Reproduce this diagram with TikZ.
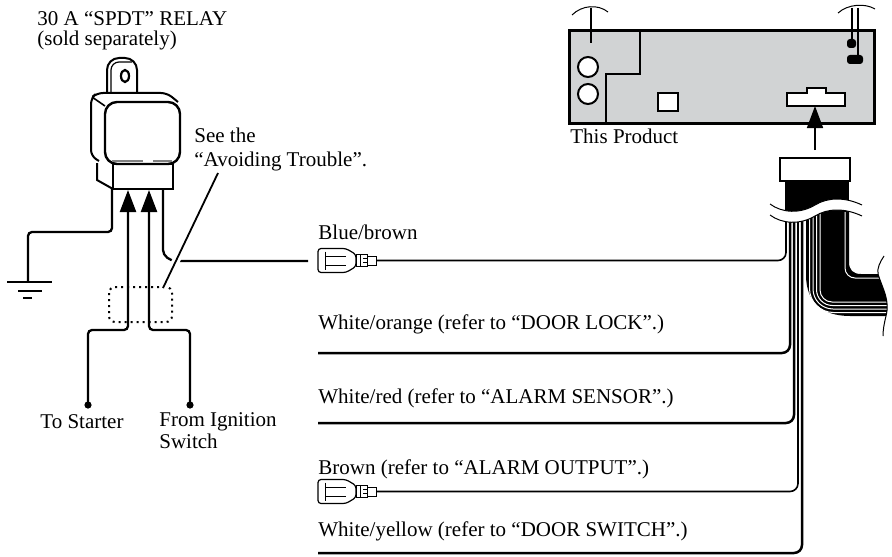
\documentclass[tikz,border=0pt]{standalone}
\usepackage{fontspec}
\setmainfont{Liberation Serif}
\usetikzlibrary{arrows.meta}
\definecolor{panel}{RGB}{209,211,212}
\tikzset{
 wire/.style={line width=1.15pt,rounded corners=2pt},
 hwire/.style={line width=1.25pt,rounded corners=4pt},
 thinwire/.style={line width=0.8pt,rounded corners=4pt},
 label/.style={anchor=base west,inner sep=0pt,font=\fontsize{10.5}{12.6}\selectfont},
 bigarrow/.style={-{Triangle[width=8pt,length=11pt]}},
 tip/.style={circle,fill,inner sep=0pt,minimum size=3.6pt},
 plug/.pic={
  \draw[line width=0.6pt,rounded corners=1.5pt] (28,-12)--(0,-12)--(0,12)--(28,12)--(38,6)--(38,-6)--cycle;
  \draw[line width=0.5pt] (38,-6) rectangle (49,6) (49,-4.5) rectangle (58,4.5);
  \draw[line width=0.5pt] (7,-9)--(7,9) (7,-4.5)--(28,-4.5) (7,4.5)--(28,4.5) (42,-6)--(42,6) (45,-2)--(49,-2) (45,2)--(49,2);
  \coordinate (-tip) at (58,0);
 }
}
\begin{document}
\begin{tikzpicture}[x=0.5pt,y=-0.5pt]
 \useasboundingbox (0,0) rectangle (892,556);
 % relay
 \node[label] (title) at (37,26) {30 A “SPDT” RELAY};
 \node[label] (sold) at (37,46) {(sold separately)};
 \draw[line width=1pt,rounded corners=6pt] (107,92) -- (107,58) -- (137,58) -- (137,92);
 \draw[line width=0.6pt,rounded corners=4pt] (111,92) -- (111,62) -- (132,62);
 \draw[line width=1.1pt] (125,76) ellipse (4 and 6);
 \draw[line width=1pt,rounded corners=3pt] (178,102) -- (167,93) -- (97,93) -- (91,98) -- (91,156) -- (99,161);
 \draw[line width=0.8pt] (92,97) -- (105,106);
 \draw[line width=1.2pt,rounded corners=6pt,fill=white] (105,102) rectangle (180,164);
 \draw[line width=0.6pt,gray] (112,161) -- (143,161) (153,161) -- (172,161);
 \draw[line width=1pt] (113,164) rectangle (173,189);
 \draw[line width=1pt] (97,163) -- (97,180) -- (113,189);
 \coordinate (gnd) at (112,189);
 \coordinate (t1) at (128,190);
 \coordinate (t2) at (149,190);
 \coordinate (t3) at (163,189);
 \draw[wire] (gnd) -- (112,232) -- (28,232) -- (28,282);
 \draw[line width=1.2pt] (7,282) -- (52,282) (18,291) -- (42,291) (23,298) -- (32,298);
 \node[tip] (st) at (88,405) {};
 \node[tip] (ig) at (190,405) {};
 \draw[wire,bigarrow] (st.center) -- ++(0,-75) -| (t1);
 \draw[wire,bigarrow] (ig.center) -- ++(0,-75) -| (t2);
 \node[label] (stl) at (40,428) {To Starter};
 \node[label] (igl) at (159,426) {From Ignition};
 \node[label] (igl2) at (159,448) {Switch};
 \draw[dotted,line width=1pt,rounded corners=3pt] (109,287) rectangle (172,322);
 \pic (bb) at (318,260.5) {plug};
 \draw[wire] (t3) -- (163,246) .. controls (163,256) and (170,261) .. (180,261) -- (308,261);
 \draw[line width=0.9pt,preaction={draw=white,line width=4pt}] (218,173) -- (163,288);
 \node[label] (see) at (194,142) {See the};
 \node[label] (avoid) at (194,166) {“Avoiding Trouble”.};
 % product
 \draw[line width=1.5pt,fill=panel] (569,31) rectangle (874,123);
 \draw[line width=0.9pt] (640,31) |- (606,74) -- (606,123);
 \draw[line width=1pt,fill=white] (588,67) circle (10) (588,94) circle (10);
 \draw[line width=1pt,fill=white] (658,93) rectangle (678,111);
 \draw[line width=1pt,fill=white] (787,93) -- (807,93) -- (807,88) -- (826,88) -- (826,93) -- (845,93) -- (845,106) -- (787,106) -- cycle;
 \draw[line width=1.3pt] (591,8) -- (591,43) (852,8) -- (852,43);
 \draw[line width=0.8pt] (858,8) -- (858,60);
 \fill[rounded corners=1.5pt] (847,39) rectangle (856,48) (847,55) rectangle (863,64);
 \draw[line width=0.5pt] (572,15) .. controls (582,5) and (598,4) .. (608,12);
 \draw[line width=0.5pt] (838,13) .. controls (848,4) and (865,3) .. (875,9);
 \node[label] (prod) at (570,143) {This Product};
 \coordinate (slot) at (815,106);
 \coordinate (ptop) at (815,150);
 \draw[line width=0.8pt,bigarrow] (ptop) -- (slot);
 % harness
 \fill (785,181) rectangle (849,215);
 \draw[line width=1pt,fill=white] (780,158) rectangle (850,181);
 \fill (806,212) -- (849,212) -- (849,262) .. controls (849,270) and (853,274) .. (861,274) -- (878,274) .. controls (883,290) and (890,300) .. (886,316) -- (850,316) .. controls (822,316) and (806,302) .. (806,275) -- cycle;
 \foreach \d/\r in {3.5/12,7/10,10.5/8,14/6}
  \draw[white,line width=0.5pt,rounded corners=\r pt] ({806+\d},212) -- ({806+\d},{316-\d}) -- (888,{316-\d});
 \draw[white,line width=0.5pt,rounded corners=5pt] (845,212) -- (845,278) -- (880,278);
 \draw[line width=0.5pt] (884,256) .. controls (880,262) and (877,268) .. (878,274) .. controls (883,290) and (890,300) .. (886,316) .. controls (884,324) and (883,330) .. (883,336);
 \coordinate (h1) at (786,212);
 \coordinate (h2) at (790,212);
 \coordinate (h3) at (794,212);
 \coordinate (h4) at (798,212);
 \coordinate (h5) at (802,212);
 \coordinate (wo) at (318,353);
 \coordinate (wr) at (318,423);
 \coordinate (wy) at (318,553);
 \pic (br) at (318,491.5) {plug};
 \draw[thinwire] (bb-tip) -| (h1);
 \draw[hwire] (wo) -| (h2);
 \draw[hwire] (wr) -| (h3);
 \draw[thinwire] (br-tip) -| (h4);
 \draw[hwire] (wy) -| (h5);
 \fill[white] (770,204) .. controls (782,213) and (800,214) .. (815,205) .. controls (828,197) and (845,197) .. (862,205) -- (862,216) .. controls (845,208) and (828,208) .. (815,216) .. controls (800,225) and (782,224) .. (770,215) -- cycle;
 \draw[line width=0.5pt] (770,204) .. controls (782,213) and (800,214) .. (815,205) .. controls (828,197) and (845,197) .. (862,205);
 \draw[line width=0.5pt] (770,215) .. controls (782,224) and (800,225) .. (815,216) .. controls (828,208) and (845,208) .. (862,216);
 \node[label] (bbl) at (318,239) {Blue/brown};
 \node[label] (wol) at (318,329) {White/orange (refer to “DOOR LOCK”.)};
 \node[label] (wrl) at (318,403) {White/red (refer to “ALARM SENSOR”.)};
 \node[label] (brl) at (318,474) {Brown (refer to “ALARM OUTPUT”.)};
 \node[label] (wyl) at (318,536) {White/yellow (refer to “DOOR SWITCH”.)};
\end{tikzpicture}
\end{document}
